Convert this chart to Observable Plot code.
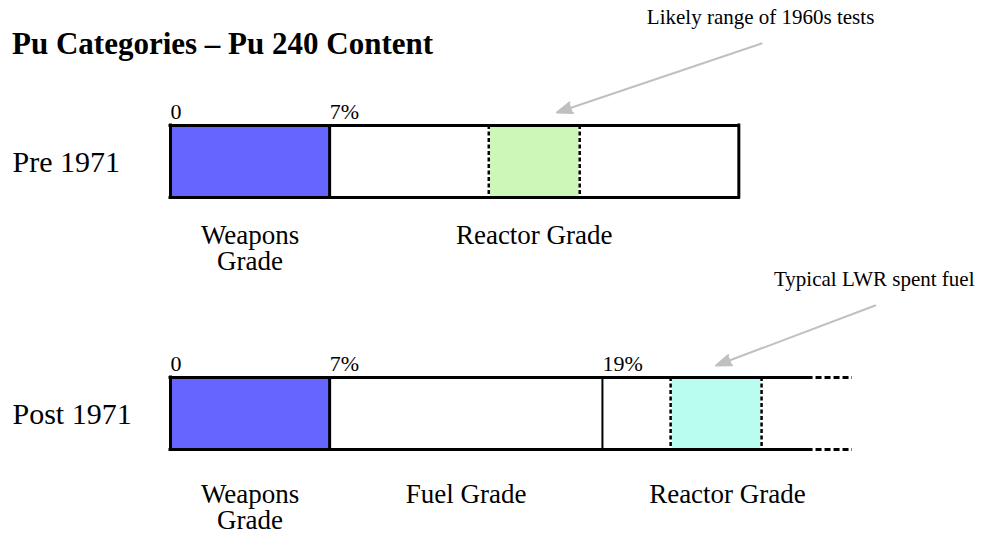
<!DOCTYPE html>
<html>
<head>
<meta charset="utf-8">
<script src="https://cdn.jsdelivr.net/npm/d3@7"></script>
<script src="https://cdn.jsdelivr.net/npm/@observablehq/plot@0.6"></script>
<style>
  body { margin: 0; background: #fff; }
  #wrap { position: relative; width: 990px; height: 538px; }
  #title { position: absolute; left: 12px; top: 28px; font: bold 31px/31px "Liberation Serif", serif; color: #000; white-space: nowrap; }
</style>
</head>
<body>
<div id="wrap">
  <div id="title">Pu Categories – Pu 240 Content</div>
  <div id="chart"></div>
</div>
<script>
// ---------------- data (Pu-240 content, %, schematic) ----------------
const rowLabels = ["Pre 1971", "Post 1971"];
const preBounds = [0, 7, 25];
const postBounds = [0, 7, 19, 30];
const preGrades = ["Weapons\nGrade", "Reactor Grade"];
const postGrades = ["Weapons\nGrade", "Fuel Grade", "Reactor Grade"];
const preTicks = ["0", "7%"];
const postTicks = ["0", "7%", "19%"];
const solidEnd = [25, 28];
const dashedEnd = [null, 30];
const highlightFrom = [14, 22];
const highlightTo = [18, 26];
const highlightKinds = ["tests", "spent"];
const noteTexts = ["Likely range of 1960s tests", "Typical LWR spent fuel"];
const noteFrom = [26, 31];
const noteTo = [17, 24];

// ---------------- layout / style ----------------
const PX = 252;            // px per row step
const H = 36 / PX;         // half bar height in row units
const FONT = "Liberation Serif";
const colors = {weapons: "#6666ff", tests: "#ccf7b8", spent: "#b9fdf0"};
const noteLayout = [{label: -138, start: -118, tip: -49}, {label: -128, start: -108, tip: -48}];
const gradeBaseline = [82, 89];
const yText = (r, baselinePx, fs) => r + (baselinePx - 0.71 * fs) / PX;

// ---------------- tables ----------------
const bounds = [preBounds, postBounds];
const grades = [preGrades, postGrades];
const ticks = [preTicks, postTicks];
const segs = [];
bounds.forEach((b, r) => grades[r].forEach((name, i) => segs.push({r, from: b[i], to: b[i + 1], name})));
const tickRows = [];
ticks.forEach((t, r) => t.forEach((label, i) => tickRows.push({r, x: bounds[r][i], label})));
const fills = segs.filter(d => d.name.startsWith("Weapons")).map(d => ({r: d.r, from: d.from, to: d.to, kind: "weapons"}))
  .concat(highlightFrom.map((f, r) => ({r, from: f, to: highlightTo[r], kind: highlightKinds[r]})));
const hlEdges = [];
highlightFrom.forEach((f, r) => { hlEdges.push({r, x: f}); hlEdges.push({r, x: highlightTo[r]}); });
const weaponDiv = segs.filter(d => d.name.startsWith("Weapons")).map(d => ({r: d.r, x: d.to}));
const otherDiv = [];
bounds.forEach((b, r) => b.slice(2, -1).forEach(x => otherDiv.push({r, x})));
const hEdges = [];
solidEnd.forEach((e, r) => { hEdges.push({r, y: r - H, to: e}); hEdges.push({r, y: r + H, to: e}); });
const dEdges = [];
dashedEnd.forEach((e, r) => { if (e != null) { dEdges.push({r, y: r - H, from: solidEnd[r], to: e}); dEdges.push({r, y: r + H, from: solidEnd[r], to: e}); } });
const leftEdges = rowLabels.map((l, r) => ({r, x: 0}));
const rightEdges = solidEnd.map((e, r) => ({r, x: e})).filter(d => dashedEnd[d.r] == null);
const notes = noteTexts.map((t, r) => ({r, text: t, from: noteFrom[r], to: noteTo[r], lay: noteLayout[r]}));
const rowsT = rowLabels.map((l, r) => ({r, label: l}));

const chart = Plot.plot({
  width: 990, height: 538,
  marginLeft: 0, marginRight: 0, marginTop: 0, marginBottom: 0,
  x: {domain: [0, 30], range: [170, 852], axis: null},
  y: {domain: [0, 1], range: [161, 413], axis: null},
  color: {domain: Object.keys(colors), range: Object.values(colors)},
  style: {fontFamily: FONT, background: "white", color: "black", overflow: "visible"},
  marks: [
    Plot.rect(fills, {x1: "from", x2: "to", y1: d => d.r - H, y2: d => d.r + H, fill: "kind"}),
    Plot.ruleX(hlEdges, {x: "x", y1: d => d.r - H, y2: d => d.r + H, stroke: "white", strokeWidth: 2.5}),
    Plot.ruleX(hlEdges, {x: "x", y1: d => d.r - H, y2: d => d.r + H, stroke: "black", strokeWidth: 2.5, strokeDasharray: "4,2.5"}),
    Plot.ruleX(otherDiv, {x: "x", y1: d => d.r - H, y2: d => d.r + H, stroke: "black", strokeWidth: 2}),
    Plot.ruleX(weaponDiv, {x: "x", y1: d => d.r - H, y2: d => d.r + H, stroke: "black", strokeWidth: 3}),
    Plot.ruleX(leftEdges, {x: "x", y1: d => d.r - H, y2: d => d.r + H, stroke: "black", strokeWidth: 3, strokeLinecap: "square"}),
    Plot.ruleX(rightEdges, {x: "x", y1: d => d.r - H, y2: d => d.r + H, stroke: "black", strokeWidth: 3, strokeLinecap: "square"}),
    Plot.ruleY(hEdges, {y: "y", x1: 0, x2: "to", stroke: "black", strokeWidth: 3, strokeLinecap: "square"}),
    Plot.ruleY(dEdges, {y: "y", x1: "from", x2: "to", stroke: "black", strokeWidth: 3, strokeDasharray: "6,3"}),
    Plot.text(tickRows, {x: "x", y: d => yText(d.r, -43, 22), text: "label", textAnchor: "start", lineAnchor: "top", fontSize: 22}),
    Plot.text(segs, {x: d => (d.from + d.to) / 2, y: d => yText(d.r, gradeBaseline[d.r], 27), text: "name", lineAnchor: "top", lineHeight: 1, fontSize: 27}),
    Plot.text(rowsT, {frameAnchor: "left", y: d => yText(d.r, 10, 30), text: "label", textAnchor: "start", lineAnchor: "top", dx: 12, fontSize: 30}),
    Plot.text(notes, {x: "from", y: d => yText(d.r, d.lay.label, 21), text: "text", lineAnchor: "top", fontSize: 21, dx: -1}),
    Plot.arrow(notes, {x1: "from", y1: d => d.r + d.lay.start / PX, x2: "to", y2: d => d.r + d.lay.tip / PX,
      stroke: "#c0c0c0", fill: "#c0c0c0", strokeWidth: 2, headLength: 12, headAngle: 40})
  ]
});
document.getElementById("chart").appendChild(chart);
</script>
</body>
</html>
